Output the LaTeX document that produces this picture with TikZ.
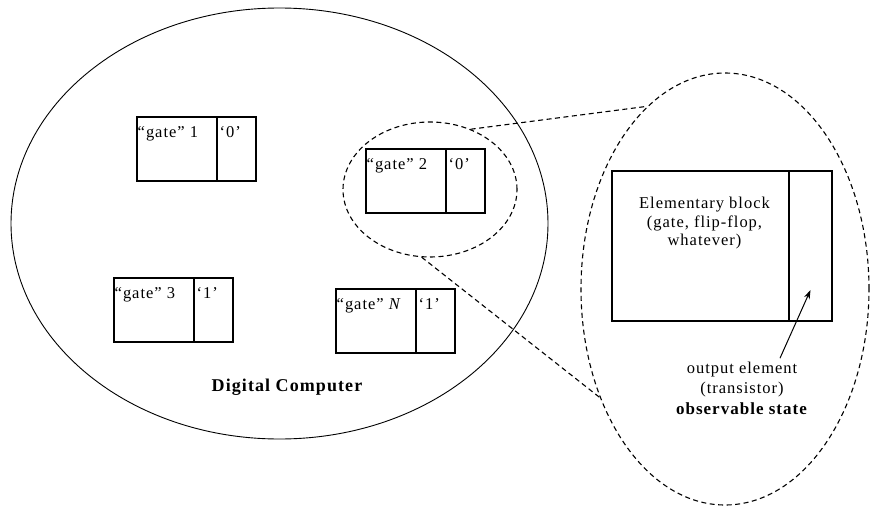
\documentclass[tikz,border=0pt]{standalone}
\usepackage{fontspec}
\setmainfont{Liberation Serif}[LetterSpace=6]
\usetikzlibrary{shapes.geometric,positioning,arrows.meta}

\begin{document}
\begin{tikzpicture}[x=1pt, y=-1pt, every node/.style={font=\fontsize{16.5}{18.5}\selectfont},
	cell/.style={draw, line width=1.3pt, minimum height=64pt, inner sep=0pt, outer sep=0pt},
	gatecell/.style={cell, minimum width=80pt},
	bitcell/.style={cell, minimum width=39pt},
	lab/.style={anchor=north west, inner sep=0pt, xshift=0.5pt, yshift=-9pt},
	dashline/.style={line width=1.1pt, dash pattern=on 5pt off 3.5pt}]
			\path[fill=white, use as bounding box] (0,0) rectangle (871,506);

			\node[draw, ellipse, line width=0.9pt, minimum width=537pt, minimum height=431pt, inner sep=0pt] (computer) at (279.5,223.5) {};
			\node[draw, ellipse, dashline, minimum width=174pt, minimum height=135pt, inner sep=0pt] (zoomin) at (430,189.5) {};
			\node[draw, ellipse, dashline, minimum width=288pt, minimum height=432pt, inner sep=0pt] (detail) at (725,289) {};

			\node[gatecell, anchor=north west, label={[lab]north west:“gate” 1}] (g1) at (137,117) {};
			\node[bitcell, right=0pt of g1, label={[lab, xshift=2pt]north west:‘0’}] (b1) {};
			\node[gatecell, anchor=north west, label={[lab]north west:“gate” 2}] (g2) at (366,149) {};
			\node[bitcell, right=0pt of g2, label={[lab, xshift=2pt]north west:‘0’}] (b2) {};
			\node[gatecell, anchor=north west, label={[lab]north west:“gate” 3}] (g3) at (114,278) {};
			\node[bitcell, right=0pt of g3, label={[lab, xshift=2pt]north west:‘1’}] (b3) {};
			\node[gatecell, anchor=north west, label={[lab]north west:“gate” \textit{N}}] (gN) at (336,289) {};
			\node[bitcell, right=0pt of gN, label={[lab, xshift=2pt]north west:‘1’}] (bN) {};
			\node[font=\bfseries\fontsize{18}{20}\selectfont] (dc) at (287,387) {Digital Computer};

			\node[cell, anchor=north west, minimum width=177pt, minimum height=150pt] (block) at (612,171) {};
			\node[cell, right=0pt of block, minimum width=43pt, minimum height=150pt] (outcell) {};
			\node[align=center, anchor=north] (blocktxt) at ([xshift=4pt, yshift=-23pt]block.north) {Elementary block\\(gate, flip-flop,\\whatever)};
			\node[align=center, font=\fontsize{16.5}{20.5}\selectfont] (note) at (742,388) {output element\\(transistor)\\\textbf{\fontsize{17}{20.5}\selectfont observable state}};
			\coordinate (tip) at ([yshift=31pt]outcell.south);

			\draw[dashline] (zoomin.56)--(detail.113);
			\draw[dashline] (zoomin.263)--(detail.221);
			\draw[-{Stealth[length=9pt, width=6pt]}, line width=1pt] ([xshift=38pt]note.north)--(tip);
\end{tikzpicture}
\end{document}
